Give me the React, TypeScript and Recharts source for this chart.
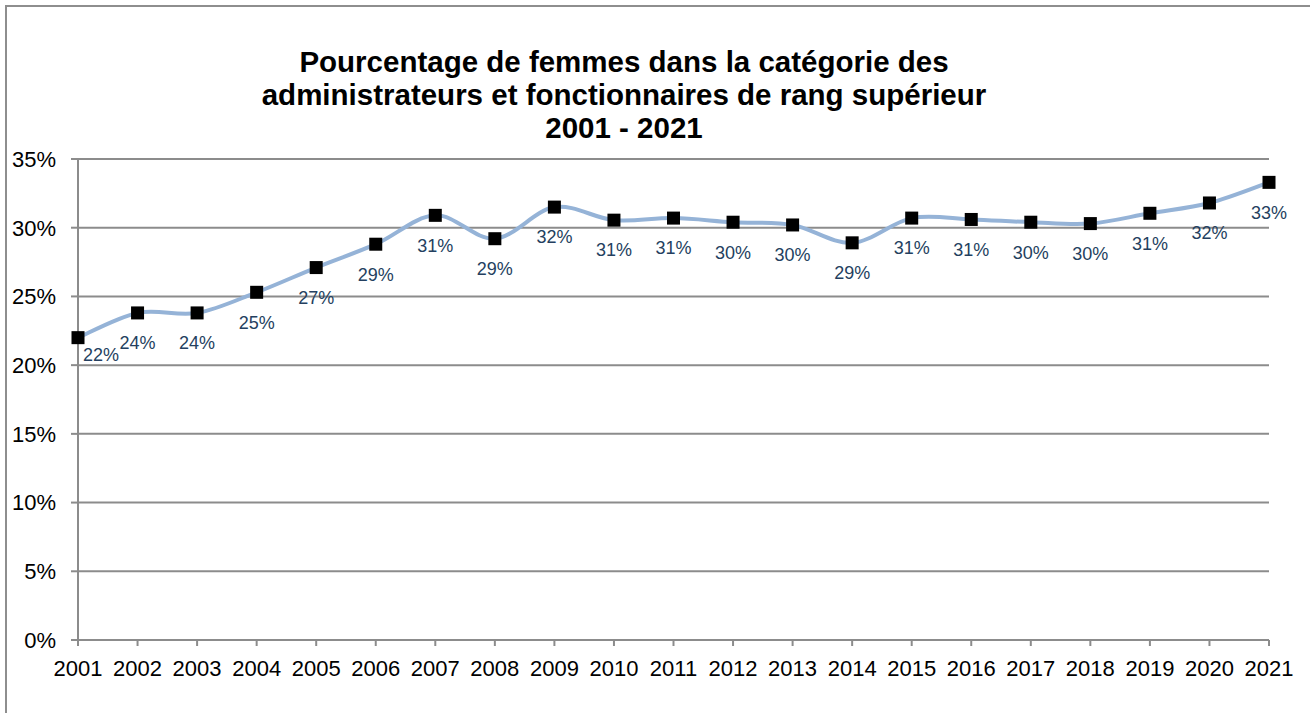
import { LineChart, Line, XAxis, YAxis, CartesianGrid, LabelList } from 'recharts'

const years = [
  '2001', '2002', '2003', '2004', '2005', '2006', '2007', '2008', '2009', '2010', '2011',
  '2012', '2013', '2014', '2015', '2016', '2017', '2018', '2019', '2020', '2021',
]

const womenShare = [
  22.0, 23.8, 23.8, 25.3, 27.1, 28.8, 30.9, 29.2, 31.5, 30.55, 30.7,
  30.4, 30.2, 28.9, 30.7, 30.6, 30.4, 30.3, 31.05, 31.8, 33.3,
]

const yTicks = [0, 5, 10, 15, 20, 25, 30, 35]

const titleLines = [
  'Pourcentage de femmes dans la catégorie des',
  'administrateurs et fonctionnaires de rang supérieur',
  '2001 - 2021',
]

const chartData = years.map((year, i) => ({ year, share: womenShare[i] }))

const FONT = '"Liberation Sans", Arial, sans-serif'
const GRID = '#8c8c8c'

// Excel-like smoothed line (Catmull-Rom through every point)
const excelSmooth = (context: any) => {
  let pts: number[][] = []
  return {
    areaStart() {},
    areaEnd() {},
    lineStart() {
      pts = []
    },
    point(x: number, y: number) {
      pts.push([+x, +y])
    },
    lineEnd() {
      const n = pts.length
      if (!n) return
      context.moveTo(pts[0][0], pts[0][1])
      const t = 1 / 6
      for (let i = 0; i < n - 1; i++) {
        const p0 = pts[i - 1] || pts[i]
        const p1 = pts[i]
        const p2 = pts[i + 1]
        const p3 = pts[i + 2] || pts[i + 1]
        context.bezierCurveTo(
          p1[0] + (p2[0] - p0[0]) * t,
          p1[1] + (p2[1] - p0[1]) * t,
          p2[0] - (p3[0] - p1[0]) * t,
          p2[1] - (p3[1] - p1[1]) * t,
          p2[0],
          p2[1]
        )
      }
    },
  }
}

const SquareDot = (props: any) => {
  const { cx, cy, index } = props
  if (cx == null || cy == null) return <g key={`dot-${index}`} />
  return <rect key={`dot-${index}`} x={cx - 6.5} y={cy - 6.5} width={13} height={13} fill="#000" />
}

const ValueLabel = (props: any) => {
  const { x, y, value, index } = props
  const first = index === 0
  return (
    <text
      x={x + (first ? 23 : 0)}
      y={y + (first ? 17 : 30)}
      dy="0.35em"
      textAnchor="middle"
      fontSize={18}
      fontFamily={FONT}
      fill="#243F60"
    >
      {Math.round(value)}%
    </text>
  )
}

export default function App() {
  return (
    <div style={{ position: 'absolute', left: 0, top: 0, width: 1310, height: 713, background: '#fff', fontFamily: FONT, overflow: 'hidden' }}>
      {/* frame of the chart area, only top and left edges are visible */}
      <div
        style={{
          position: 'absolute', left: 5, top: 5, width: 1400, height: 800,
          borderTop: '2px solid #8e8e8e', borderLeft: '2px solid #8e8e8e',
        }}
      />

      {/* Title */}
      <div
        style={{
          position: 'absolute', left: 0, top: 45, width: 1248, textAlign: 'center',
          fontSize: 29.5, fontWeight: 'bold', lineHeight: '33px', color: '#000',
        }}
      >
        {titleLines.map(line => (
          <div key={line}>{line}</div>
        ))}
      </div>

      <div style={{ position: 'absolute', left: 0, top: 0 }}>
        <LineChart width={1310} height={713} data={chartData} margin={{ top: 159, right: 41, bottom: 33, left: 18 }}>
          <CartesianGrid horizontal vertical={false} stroke={GRID} strokeWidth={2} />
          <XAxis
            dataKey="year"
            interval={0}
            height={40}
            tickSize={6}
            tickMargin={14}
            axisLine={{ stroke: GRID, strokeWidth: 2 }}
            tickLine={{ stroke: GRID, strokeWidth: 2 }}
            tick={{ fontSize: 22, fill: '#000', fontFamily: FONT }}
          />
          <YAxis
            width={60}
            domain={[0, 35]}
            ticks={yTicks}
            interval={0}
            tickSize={7}
            tickMargin={15}
            tickFormatter={(v: number) => `${v}%`}
            axisLine={{ stroke: GRID, strokeWidth: 2 }}
            tickLine={{ stroke: GRID, strokeWidth: 2 }}
            tick={{ fontSize: 22, fill: '#000', fontFamily: FONT }}
          />
          <Line
            dataKey="share"
            type={excelSmooth as any}
            stroke="#95B3D7"
            strokeWidth={4}
            dot={SquareDot}
            activeDot={false}
            isAnimationActive={false}
          >
            <LabelList dataKey="share" content={ValueLabel} />
          </Line>
        </LineChart>
      </div>
    </div>
  )
}
